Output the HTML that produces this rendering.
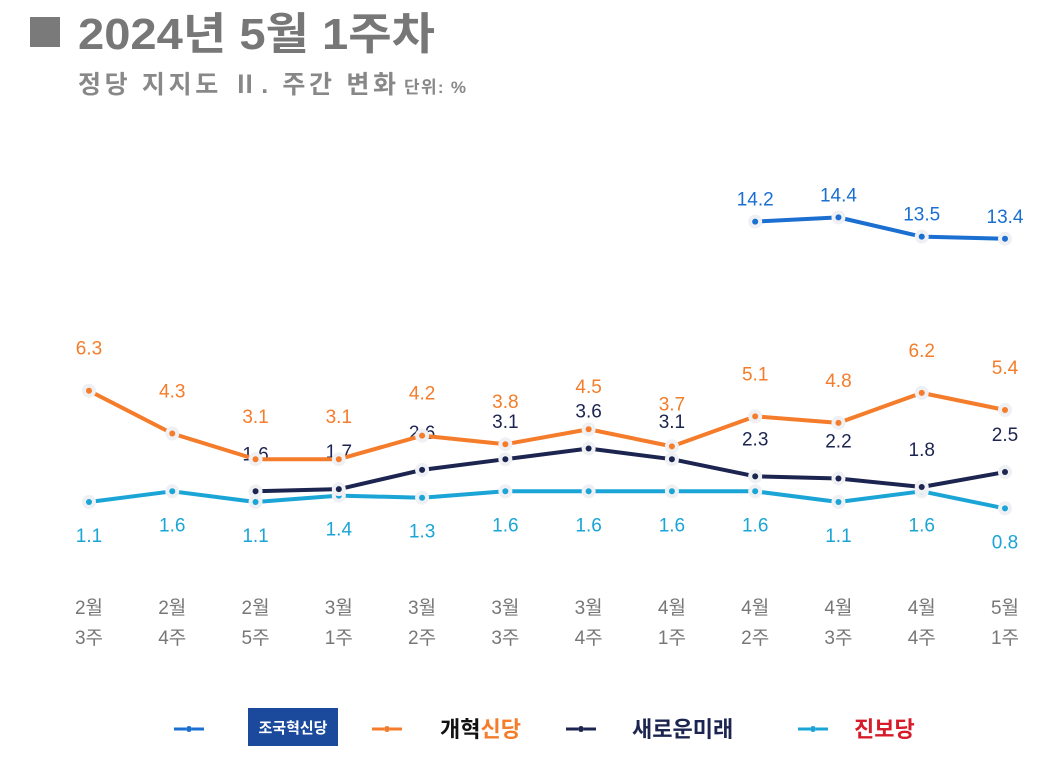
<!DOCTYPE html>
<html><head><meta charset="utf-8"><style>
body{margin:0;background:#fff;width:1050px;height:760px;overflow:hidden;font-family:"Liberation Sans","Noto Sans CJK KR",sans-serif}
</style></head><body>
<svg id="c" width="1050" height="760" xmlns="http://www.w3.org/2000/svg">
<rect x="30" y="17" width="30" height="30" fill="#7a7a7a"/>
<text x="78" y="49" font-size="44" font-weight="bold" fill="#777" textLength="357" lengthAdjust="spacingAndGlyphs">2024년 5월 1주차</text>
<text x="78" y="93" font-size="25" font-weight="bold" fill="#888" textLength="318" lengthAdjust="spacing">정당 지지도 Ⅱ. 주간 변화</text>
<text x="404" y="93" font-size="17" font-weight="bold" fill="#888" textLength="62">단위: %</text>
<g id="plot"></g>
<g>
<line x1="174" y1="729" x2="210" y2="729" stroke="#1a6fd0" stroke-width="3" stroke-dasharray="12,6"/><circle cx="189" cy="729" r="3" fill="#1a6fd0"/>
<rect x="248" y="708" width="90" height="38" fill="#1b4a9c"/>
<text x="293" y="733" font-size="15" font-weight="bold" fill="#fff" text-anchor="middle">조국혁신당</text>
<line x1="372" y1="729" x2="408" y2="729" stroke="#f47c2a" stroke-width="3" stroke-dasharray="12,6"/><circle cx="387" cy="729" r="3" fill="#f47c2a"/>
<text x="440" y="737" font-size="22" font-weight="bold" fill="#111">개혁<tspan fill="#f47c2a">신당</tspan></text>
<line x1="566" y1="729" x2="602" y2="729" stroke="#1c2450" stroke-width="3" stroke-dasharray="12,6"/><circle cx="581" cy="729" r="3" fill="#1c2450"/>
<text x="632" y="737" font-size="22" font-weight="bold" fill="#1c2450">새로운미래</text>
<line x1="798" y1="729" x2="834" y2="729" stroke="#1aa5d6" stroke-width="3" stroke-dasharray="12,6"/><circle cx="813" cy="729" r="3" fill="#1aa5d6"/>
<text x="854" y="737" font-size="22" font-weight="bold" fill="#d81b2a">진보당</text>
</g>
</svg>
<script>
const monthLabels=["2월","2월","2월","3월","3월","3월","3월","4월","4월","4월","4월","5월"];
const weekLabels=["3주","4주","5주","1주","2주","3주","4주","1주","2주","3주","4주","1주"];
const reformVals=[6.3,4.3,3.1,3.1,4.2,3.8,4.5,3.7,5.1,4.8,6.2,5.4];
const newFutureVals=[null,null,1.6,1.7,2.6,3.1,3.6,3.1,2.3,2.2,1.8,2.5];
const progressiveVals=[1.1,1.6,1.1,1.4,1.3,1.6,1.6,1.6,1.6,1.1,1.6,0.8];
const jokukVals=[null,null,null,null,null,null,null,null,14.2,14.4,13.5,13.4];
const NS="http://www.w3.org/2000/svg";
const g=document.getElementById('plot');
const xs=i=>89+i*(1005-89)/11;
const ys=v=>502-(v-1.1)*21.4;
function mk(t,a){const e=document.createElementNS(NS,t);for(const k in a)e.setAttribute(k,a[k]);g.appendChild(e);return e;}
monthLabels.forEach((m,i)=>{
 const t=mk('text',{x:xs(i),y:614,'font-size':19,fill:'#777','text-anchor':'middle'});t.textContent=m;
 
 
 const w=mk('text',{x:xs(i),y:644,'font-size':19,fill:'#777','text-anchor':'middle'});w.textContent=weekLabels[i];
 
 
});
function series(vals,color,name,dy){
 const pts=[];vals.forEach((v,i)=>{if(v!==null)pts.push([xs(i),ys(v),v]);});
 const p=mk('polyline',{points:pts.map(q=>q[0]+','+q[1]).join(' '),fill:'none',stroke:color,'stroke-width':4,'stroke-linejoin':'round'});
 
 
 pts.forEach(q=>{
  const h=mk('circle',{cx:q[0],cy:q[1],r:7,fill:'#eef0f4'});
  
  
  const c=mk('circle',{cx:q[0],cy:q[1],r:3,fill:color});
  
  
  const t=mk('text',{x:q[0],y:q[1]+dy,'font-size':19,fill:color,'text-anchor':'middle'});t.textContent=q[2].toFixed(1);
  
  
 });
}
series(progressiveVals,'#1aa5d6','progressive',40);
series(newFutureVals,'#1c2450','new-future',-31);
series(reformVals,'#f47c2a','reform',-36);
series(jokukVals,'#1a6fd0','jokuk',-16);
</script>
</body></html>
